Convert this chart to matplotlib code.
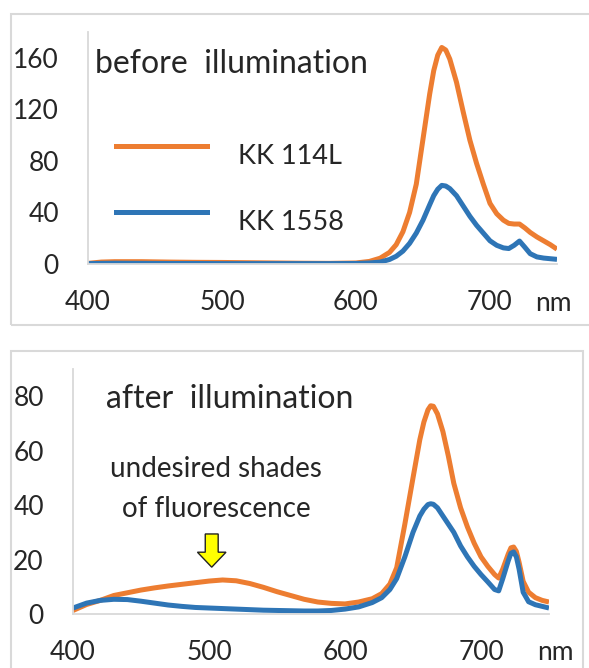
import matplotlib
matplotlib.use('Agg')
import matplotlib.pyplot as plt
from matplotlib.patches import Rectangle, FancyArrow
from matplotlib.lines import Line2D

plt.rcParams['font.family'] = ['Lato', 'DejaVu Sans']

# emission spectra before illumination
wl_before = [400, 410, 420, 440, 460, 480, 500, 520, 540, 560, 580, 600,
             610, 618, 625, 630, 635, 640, 645, 650, 655, 658, 661, 664,
             667, 670, 675, 680, 685, 690, 695, 700, 705, 710, 714, 718,
             722, 726, 730, 735, 740, 745, 750]
kk114l_before = [0.5, 1.5, 1.8, 1.8, 1.5, 1.3, 1.2, 1.0, 0.8, 0.6, 0.5, 0.8,
                 2.0, 4.5, 9.0, 15, 25, 40, 62, 97, 132, 150, 162, 168,
                 166, 159, 141, 118, 96, 78, 62, 47, 39, 34, 31.5, 31,
                 31, 28, 24.5, 21, 18, 15, 11.5]
kk1558_before = [0.3, 0.5, 0.6, 0.5, 0.4, 0.4, 0.3, 0.3, 0.3, 0.3, 0.3, 0.4,
                 0.8, 1.5, 3.5, 6, 10, 16, 24, 34, 46, 53, 58, 61,
                 60.5, 58.5, 53, 45, 37, 30, 24, 18, 14.5, 12.5, 12, 14.5,
                 17.8, 13, 8, 5.5, 4.6, 4.1, 3.6]

# emission spectra after illumination
wl_after = [400, 410, 420, 430, 440, 450, 460, 470, 480, 490, 500, 510,
            520, 530, 540, 550, 560, 570, 580, 590, 600, 610, 620, 627,
            633, 638, 644, 650, 655, 658, 661, 663, 665, 668, 672, 676,
            680, 685, 690, 695, 700, 705, 710, 713, 716, 720, 722, 724,
            726, 728, 731, 735, 740, 745, 750]
kk114l_after = [1.3, 3.5, 5.0, 6.8, 7.8, 8.8, 9.6, 10.3, 10.9, 11.5, 12.1, 12.5,
                12.2, 11.2, 9.8, 8.2, 6.8, 5.4, 4.4, 3.9, 3.7, 4.4, 5.6, 7.5,
                11, 17, 33, 50, 64, 70.5, 75, 76.5, 76.3, 73.5, 67, 58,
                48, 39, 32, 26, 21, 17.5, 14.5, 13.2, 16.5, 22, 24.3, 24.6,
                23, 19, 12, 8, 6, 5, 4.4]
kk1558_after = [2.2, 4.0, 5.0, 5.4, 5.3, 4.7, 4.0, 3.3, 2.8, 2.4, 2.2, 2.0,
                1.8, 1.6, 1.4, 1.3, 1.2, 1.1, 1.1, 1.3, 1.8, 2.6, 4.2, 6.0,
                9, 13, 21, 30, 36, 38.5, 40.2, 40.5, 40.3, 39, 36, 33,
                30, 25, 21, 17.5, 14.5, 11.8, 9, 8.5, 13, 19.5, 22.3, 22.8,
                21, 16.5, 8, 4.5, 3.4, 2.8, 2.2]

series_names = ['KK 114L', 'KK 1558']
x_ticks = [400, 500, 600, 700]
yticks_before = [0, 40, 80, 120, 160]
yticks_after = [0, 20, 40, 60, 80]

ORANGE = '#ED7D31'
BLUE = '#2E75B6'
GRID = '#D9D9D9'
TEXT = '#262626'

W, H = 589, 668


def fx(x):
    return x / W


def fy(y):
    return 1 - y / H


fig = plt.figure(figsize=(W / 100, H / 100), dpi=100)

# light grey frames around each panel
fig.patches.append(Rectangle((fx(11), fy(325)), fx(600) - fx(11), fy(14) - fy(325),
                             transform=fig.transFigure, fill=False,
                             ec=GRID, lw=1.5))
fig.patches.append(Rectangle((fx(11), fy(700)), fx(583) - fx(11), fy(351) - fy(700),
                             transform=fig.transFigure, fill=False,
                             ec=GRID, lw=1.5))

line_kw = dict(lw=3.6, solid_joinstyle='round', solid_capstyle='butt')


def style_axes(ax, ymax, yticks):
    ax.set_xlim(400, 750)
    ax.set_ylim(0, ymax)
    ax.set_xticks(x_ticks)
    ax.set_yticks(yticks)
    for side in ['top', 'right']:
        ax.spines[side].set_visible(False)
    for side in ['left', 'bottom']:
        ax.spines[side].set_color(GRID)
        ax.spines[side].set_linewidth(1.3)
    ax.tick_params(length=0, labelsize=19, colors=TEXT)
    ax.tick_params(axis='y', pad=21)
    ax.tick_params(axis='x', pad=19)
    ax.patch.set_alpha(0)


ax1 = fig.add_axes([fx(88), fy(264), (557 - 88) / W, (264 - 32) / H])
ax1.plot(wl_before, kk114l_before, color=ORANGE, **line_kw)
ax1.plot(wl_before, kk1558_before, color=BLUE, **line_kw)
style_axes(ax1, 180, yticks_before)
ax1.text(fx(95), fy(64), 'before  illumination', transform=fig.transFigure,
         fontsize=23, color=TEXT, va='center', ha='left')

# hand-placed legend
for name, color, ly in zip(series_names, [ORANGE, BLUE], [146, 212]):
    fig.add_artist(Line2D([fx(116), fx(207)], [fy(ly), fy(ly)],
                          color=color, lw=3.6, transform=fig.transFigure))
    fig.text(fx(238), fy(ly + 11), name, fontsize=19.5, color=TEXT,
             va='center', ha='left')

fig.text(fx(553), fy(303), 'nm', fontsize=19, color=TEXT, ha='center', va='center')

ax2 = fig.add_axes([fx(73), fy(614), (549 - 73) / W, (614 - 369) / H])
ax2.plot(wl_after, kk114l_after, color=ORANGE, **line_kw)
ax2.plot(wl_after, kk1558_after, color=BLUE, **line_kw)
style_axes(ax2, 90, yticks_after)
ax2.text(fx(106), fy(399), 'after  illumination', transform=fig.transFigure,
         fontsize=23, color=TEXT, va='center', ha='left')
ax2.text(fx(216), fy(469), 'undesired shades', transform=fig.transFigure,
         fontsize=20, color=TEXT, ha='center', va='center')
ax2.text(fx(216), fy(509), 'of fluorescence', transform=fig.transFigure,
         fontsize=20, color=TEXT, ha='center', va='center')
ax2.add_patch(FancyArrow(502, 29.4, 0, -12.2, width=9.5, head_width=21,
                         head_length=5.5, length_includes_head=True,
                         fc='#FFFF00', ec='#222222', lw=1.0, zorder=5))

fig.text(fx(555), fy(652), 'nm', fontsize=19, color=TEXT, ha='center', va='center')

fig.savefig('out.png', dpi=100)
